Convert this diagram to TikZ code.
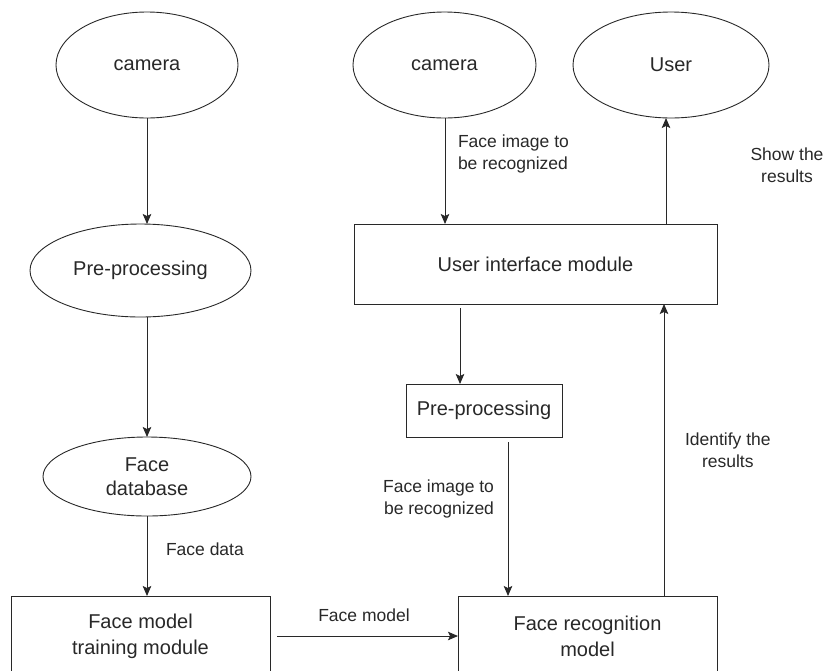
\documentclass[tikz,border=0pt]{standalone}
\usepackage{fontspec}
\setmainfont{Liberation Sans}
\usepackage{tikz}
\usetikzlibrary{shapes.geometric,arrows.meta,positioning}

\definecolor{ink}{RGB}{40,40,40}

\begin{document}
\begin{tikzpicture}[x=1pt,y=-1pt,every node/.style={outer sep=0pt,inner sep=0pt},
 line width=0.9pt,draw=ink,text=ink,
 blob/.style={ellipse,draw,font=\fontsize{20}{24}\selectfont,align=center},
 module/.style={rectangle,draw,font=\fontsize{20}{26}\selectfont,align=center},
 flow/.style={-{Stealth[length=10pt,width=8.5pt,inset=2pt]}},
 tag/.style={font=\fontsize{17.5}{22}\selectfont}]
\useasboundingbox (0,0) rectangle (830,670);

% left column
  \node[blob,minimum width=182pt,minimum height=106pt] (cam1) at (147,65) {camera};
  \node[blob,minimum width=221pt,minimum height=93pt] (pre1) at (140.5,270.5) {Pre-processing};
  \node[blob,minimum width=208pt,minimum height=79pt] (db) at (147,476.5) {Face\\database};
  \node[module,minimum width=259pt,minimum height=80pt] (train) at (140.5,636) {Face model\\training module};

% right part
  \node[blob,minimum width=183pt,minimum height=106pt] (cam2) at (444.5,65) {camera};
  \node[blob,minimum width=196pt,minimum height=106pt] (user) at (671,65) {User};
  \node[module,minimum width=363pt,minimum height=80pt] (ui) at (535.5,264) {User interface module};
  \node[module,minimum width=156pt,minimum height=53pt] (pre2) at (484,410.5) {Pre-processing};
  \node[module,minimum width=259pt,minimum height=80pt] (recog) at (587.5,636) {Face recognition\\model};

\draw[flow] (cam1.south) -- (cam1.south|-pre1.north);
\draw[flow] (cam1.south|-pre1.south) -- (db.north);
\draw[flow] (db.south) -- (train.north-|db.south) node[pos=0.42,right=19pt,tag] (l1) {Face data};
\draw[flow,shorten <=7pt] (train.east) -- (recog.west) node[midway,above=14pt,tag] (l2) {Face model};

\draw[flow] ([xshift=0.5pt]cam2.south) coordinate(aux) -- (ui.north-|aux) node[pos=0.34,right=13pt,tag,align=left] (l3) {Face image to\\be recognized};
\draw[flow,shorten <=4pt] ([xshift=-75.5pt]ui.south) coordinate(aux) -- (pre2.north-|aux);
\draw[flow,shorten <=5pt] ([xshift=24pt]pre2.south) coordinate(aux) -- (recog.north-|aux) node[pos=0.39,left=14pt,tag,align=right] (l4) {Face image to\\be recognized};
\draw[flow] ([xshift=76.5pt]recog.north) coordinate(aux) -- (ui.south-|aux) node[midway,right=21pt,tag,align=center] (l5) {Identify the\\results};
\draw[flow] ([xshift=130.5pt]ui.north) coordinate(aux) -- (user.south-|aux);
  \node[tag,align=center] (l6) at (787,165) {Show the\\results};
\end{tikzpicture}
\end{document}
